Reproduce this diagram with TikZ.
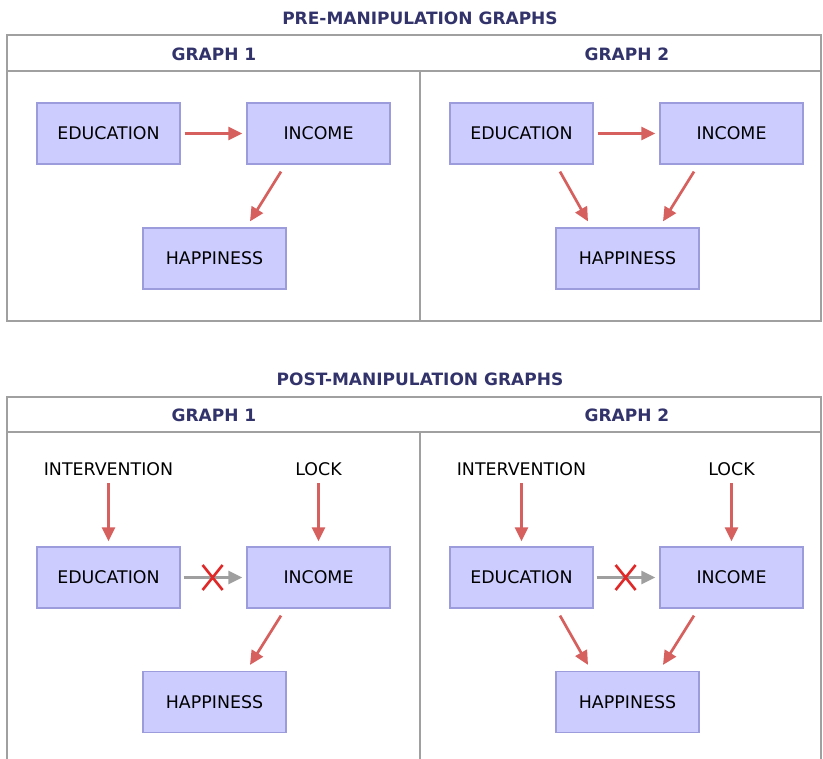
\documentclass[tikz,border=0pt]{standalone}
\usepackage{fontspec}
\setmainfont{DejaVu Sans}
\usetikzlibrary{arrows.meta,calc}
\definecolor{boxfill}{HTML}{CCCCFF}
\definecolor{boxline}{HTML}{9C9CDC}
\definecolor{arrred}{HTML}{D6605E}
\definecolor{xred}{HTML}{E02828}
\definecolor{headblue}{HTML}{33336B}
\definecolor{frame}{HTML}{A0A0A0}
\tikzset{
  var/.style={draw=boxline, line width=1.2pt, fill=boxfill, minimum width=143pt, minimum height=61pt, inner sep=0pt, font=\fontsize{17.4}{20}\selectfont},
  ext/.style={inner sep=0pt, font=\fontsize{17.4}{20}\selectfont},
  head/.style={text=headblue, font=\bfseries\fontsize{17}{20}\selectfont},
  causal/.style={draw=arrred, line width=2.7pt, -{Triangle[length=14pt,width=13pt]}},
  cut/.style={draw=gray!75, line width=2.7pt, -{Triangle[length=14pt,width=13pt]}},
  cross/.style={draw=xred, line width=2.6pt},
  framed/.style={draw=frame, line width=1.5pt},
}
\begin{document}
\begin{tikzpicture}[x=1pt,y=-1pt]
\useasboundingbox (0,0) rectangle (823,759);

% ---------- pre-manipulation panel ----------
\node[head] (pretitle) at (420,18) {PRE-MANIPULATION GRAPHS};
\draw[framed] (7,35) rectangle (821,321);
\draw[framed] (7,71) -- (821,71);
\draw[framed] (420,71) -- (420,321);
\node[head] (preg1) at (214,54) {GRAPH 1};
\node[head] (preg2) at (627,54) {GRAPH 2};

% graph 1
\node[var] (aedu) at (108.5,133.5) {EDUCATION};
\node[var] (ainc) at (318.5,133.5) {INCOME};
\node[var] (ahap) at (214.5,258.5) {HAPPINESS};
\draw[causal] ([xshift=4pt]aedu.east) -- ([xshift=-4pt]ainc.west);
\draw[causal] ([xshift=-37.5pt,yshift=-7pt]ainc.south) -- ([xshift=35.5pt,yshift=6pt]ahap.north);

% graph 2
\node[var] (bedu) at (521.5,133.5) {EDUCATION};
\node[var] (binc) at (731.5,133.5) {INCOME};
\node[var] (bhap) at (627.5,258.5) {HAPPINESS};
\draw[causal] ([xshift=4pt]bedu.east) -- ([xshift=-4pt]binc.west);
\draw[causal] ([xshift=38.5pt,yshift=-7pt]bedu.south) -- ([xshift=-39.5pt,yshift=6pt]bhap.north);
\draw[causal] ([xshift=-37.5pt,yshift=-7pt]binc.south) -- ([xshift=35.5pt,yshift=6pt]bhap.north);

% ---------- post-manipulation panel ----------
\node[head] (posttitle) at (420,379) {POST-MANIPULATION GRAPHS};
\draw[framed] (7,765) -- (7,397) -- (821,397) -- (821,765);
\draw[framed] (7,432) -- (821,432);
\draw[framed] (420,432) -- (420,765);
\node[head] (postg1) at (214,415) {GRAPH 1};
\node[head] (postg2) at (627,415) {GRAPH 2};

% graph 1
\node[ext] (cint) at (108.5,469) {INTERVENTION};
\node[ext] (clock) at (318.5,469) {LOCK};
\node[var] (cedu) at (108.5,577.5) {EDUCATION};
\node[var] (cinc) at (318.5,577.5) {INCOME};
\node[var] (chap) at (214.5,702) {HAPPINESS};
\draw[causal] ([yshift=-7.5pt]cint.south) -- ([yshift=5pt]cedu.north);
\draw[causal] ([yshift=-7.5pt]clock.south) -- ([yshift=5pt]cinc.north);
\draw[cut] ([xshift=3pt]cedu.east) -- ([xshift=-4pt]cinc.west);
\coordinate (cx) at ([xshift=32pt]cedu.east);
\draw[cross] ($(cx)+(-10,-12.5)$) -- ($(cx)+(10,12.5)$)
             ($(cx)+(10,-12.5)$) -- ($(cx)+(-10,12.5)$);
\draw[causal] ([xshift=-37.5pt,yshift=-7pt]cinc.south) -- ([xshift=35.5pt,yshift=6pt]chap.north);

% graph 2
\node[ext] (dint) at (521.5,469) {INTERVENTION};
\node[ext] (dlock) at (731.5,469) {LOCK};
\node[var] (dedu) at (521.5,577.5) {EDUCATION};
\node[var] (dinc) at (731.5,577.5) {INCOME};
\node[var] (dhap) at (627.5,702) {HAPPINESS};
\draw[causal] ([yshift=-7.5pt]dint.south) -- ([yshift=5pt]dedu.north);
\draw[causal] ([yshift=-7.5pt]dlock.south) -- ([yshift=5pt]dinc.north);
\draw[cut] ([xshift=3pt]dedu.east) -- ([xshift=-4pt]dinc.west);
\coordinate (dx) at ([xshift=32pt]dedu.east);
\draw[cross] ($(dx)+(-10,-12.5)$) -- ($(dx)+(10,12.5)$)
             ($(dx)+(10,-12.5)$) -- ($(dx)+(-10,12.5)$);
\draw[causal] ([xshift=38.5pt,yshift=-7pt]dedu.south) -- ([xshift=-39.5pt,yshift=6pt]dhap.north);
\draw[causal] ([xshift=-37.5pt,yshift=-7pt]dinc.south) -- ([xshift=35.5pt,yshift=6pt]dhap.north);
\end{tikzpicture}
\end{document}
